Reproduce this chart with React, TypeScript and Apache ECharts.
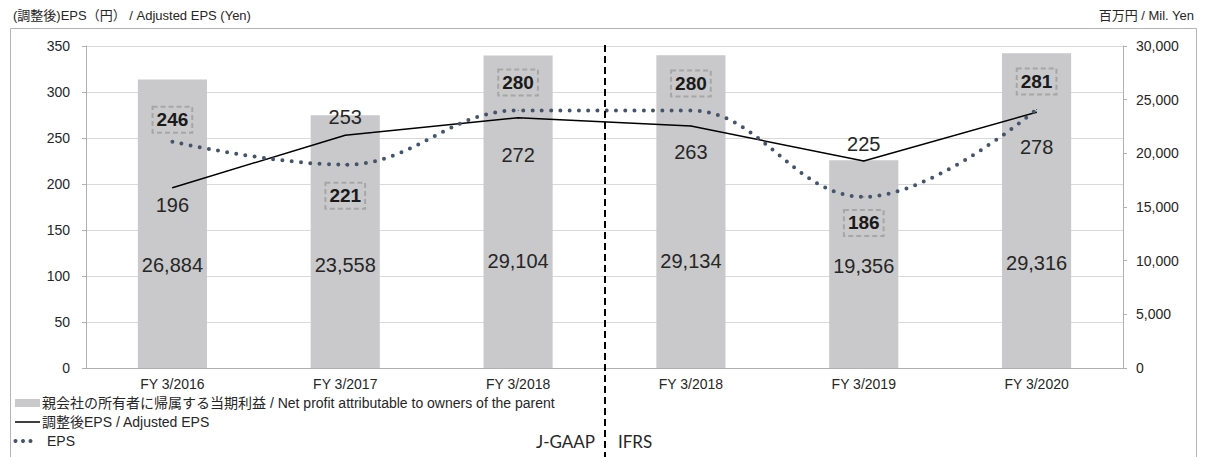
import React, { useEffect, useRef } from "react";
import * as echarts from "echarts";

// ---- data ----
const categories = ["FY 3/2016", "FY 3/2017", "FY 3/2018", "FY 3/2018", "FY 3/2019", "FY 3/2020"];
const netProfit = [26884, 23558, 29104, 29134, 19356, 29316];
const adjustedEps = [196, 253, 272, 263, 225, 278];
const eps = [246, 221, 280, 280, 186, 281];
const leftAxis = { min: 0, max: 350, interval: 50 };
const rightAxis = { min: 0, max: 30000, interval: 5000 };
const legendNames = [
  "親会社の所有者に帰属する当期利益 / Net profit attributable to owners of the parent",
  "調整後EPS / Adjusted EPS",
  "EPS",
];
const leftTitle = "(調整後)EPS（円） / Adjusted EPS (Yen)";
const rightTitle = "百万円 / Mil. Yen";
const gaapLabels = ["J-GAAP", "IFRS"];

// ---- label placement (style, not data) ----
const barLabelDistance = [93, 93, 97, 97, 92.5, 95.5];
const adjLabelDy = [17, -18, 37.5, 26, -17.5, 35];
const epsLabelDy = [-22, 31, -28, -27, 26, -28];

const FONT = "'Liberation Sans', Arial, 'Noto Sans CJK JP', sans-serif";
const BAR_COLOR = "#c9c9cb";
const EPS_COLOR = "#44546a";
const AXIS_COLOR = "#b0b0b0";
const TEXT_COLOR = "#262626";

const fmt = (v: number) => v.toLocaleString("en-US");

export default function App() {
  const ref = useRef<HTMLDivElement>(null);

  useEffect(() => {
    if (!ref.current) return;
    const chart = echarts.init(ref.current, undefined, { renderer: "svg" });

    const option: any = {
      animation: false,
      textStyle: { fontFamily: FONT },
      grid: { left: 86, right: 82, top: 46, bottom: 89, containLabel: false },
      xAxis: {
        type: "category",
        data: categories,
        boundaryGap: true,
        axisLine: { show: true, lineStyle: { color: AXIS_COLOR, width: 1 } },
        axisTick: { show: false },
        axisLabel: { fontSize: 14, color: TEXT_COLOR, margin: 9, fontFamily: FONT },
      },
      yAxis: [
        {
          type: "value",
          position: "left",
          min: leftAxis.min,
          max: leftAxis.max,
          interval: leftAxis.interval,
          axisLine: { show: true, lineStyle: { color: AXIS_COLOR } },
          axisTick: { show: true, length: 4, lineStyle: { color: AXIS_COLOR } },
          axisLabel: { fontSize: 14, color: TEXT_COLOR, margin: 16, fontFamily: FONT },
          splitLine: { show: true, lineStyle: { color: "#d9d9d9", width: 1 } },
        },
        {
          type: "value",
          position: "right",
          min: rightAxis.min,
          max: rightAxis.max,
          interval: rightAxis.interval,
          axisLine: { show: true, lineStyle: { color: AXIS_COLOR } },
          axisTick: { show: true, length: 4, lineStyle: { color: AXIS_COLOR } },
          axisLabel: {
            fontSize: 14,
            color: TEXT_COLOR,
            margin: 13,
            fontFamily: FONT,
            formatter: (v: number) => fmt(v),
          },
          splitLine: { show: false },
        },
      ],
      series: [
        {
          name: legendNames[0],
          type: "bar",
          yAxisIndex: 1,
          barWidth: "40%",
          itemStyle: { color: BAR_COLOR },
          label: {
            show: true,
            position: "insideBottom",
            fontSize: 20,
            color: TEXT_COLOR,
            fontFamily: FONT,
            formatter: (p: any) => fmt(p.value),
          },
          emphasis: { disabled: true },
          data: netProfit.map((v, i) => ({ value: v, label: { distance: barLabelDistance[i] } })),
          z: 1,
        },
        {
          name: legendNames[1],
          type: "line",
          yAxisIndex: 0,
          symbol: "circle",
          symbolSize: 1,
          showAllSymbol: true,
          itemStyle: { color: "#000" },
          lineStyle: { color: "#000", width: 1.5 },
          label: {
            show: true,
            position: "inside",
            fontSize: 20,
            color: TEXT_COLOR,
            fontFamily: FONT,
          },
          emphasis: { disabled: true },
          data: adjustedEps.map((v, i) => ({ value: v, label: { offset: [0, adjLabelDy[i]] } })),
          z: 3,
        },
        {
          name: legendNames[2],
          type: "line",
          yAxisIndex: 0,
          smooth: 0.4,
          smoothMonotone: "x",
          symbol: "circle",
          symbolSize: 1,
          showAllSymbol: true,
          itemStyle: { color: EPS_COLOR },
          lineStyle: { color: EPS_COLOR, width: 4, type: [0, 9.3], cap: "round" },
          label: {
            show: true,
            position: "inside",
            fontSize: 19,
            fontWeight: "bold",
            color: "#1a1a1a",
            fontFamily: FONT,
            lineHeight: 20,
            padding: [3, 4, 3, 4],
            borderColor: "#a6a6a6",
            borderWidth: 2,
            borderType: [5, 3],
          },
          emphasis: { disabled: true },
          data: eps.map((v, i) => ({ value: v, label: { offset: [0, epsLabelDy[i]] } })),
          z: 4,
        },
      ],
    };

    chart.setOption(option);

    // divider between J-GAAP and IFRS, at the category boundary
    const p2 = chart.convertToPixel({ xAxisIndex: 0 }, 2) as number;
    const p3 = chart.convertToPixel({ xAxisIndex: 0 }, 3) as number;
    const divX = Math.round((p2 + p3) / 2);

    const txt = (x: number, y: number, text: string, size: number, align: string, family = FONT, fill = TEXT_COLOR) => ({
      type: "text",
      x,
      y,
      silent: true,
      style: {
        text,
        fontSize: size,
        fontFamily: family,
        fill,
        textAlign: align,
        align,
        textVerticalAlign: "middle",
        verticalAlign: "middle",
      },
    });

    chart.setOption({
      graphic: [
        {
          type: "rect",
          silent: true,
          shape: { x: 10.5, y: 28.5, width: 1186, height: 460 },
          style: { fill: "none", stroke: "#b4b4b4", lineWidth: 1 },
          z: 0,
        },
        {
          type: "line",
          silent: true,
          shape: { x1: divX, y1: 45, x2: divX, y2: 457 },
          style: { stroke: "#000", lineWidth: 2, lineDash: [7, 4] },
          z: 10,
        },
        txt(13, 15, leftTitle, 13, "left"),
        txt(1194, 15, rightTitle, 13, "right"),
        txt(divX - 10, 441, gaapLabels[0], 17, "right", "Lato, 'Open Sans', sans-serif"),
        txt(divX + 13, 441, gaapLabels[1], 17, "left", "Lato, 'Open Sans', sans-serif"),
        // legend
        {
          type: "rect",
          silent: true,
          shape: { x: 15, y: 399, width: 25, height: 8 },
          style: { fill: BAR_COLOR },
        },
        txt(42, 403, legendNames[0], 14, "left"),
        {
          type: "line",
          silent: true,
          shape: { x1: 15, y1: 422, x2: 40, y2: 422 },
          style: { stroke: "#000", lineWidth: 1.5 },
        },
        txt(42, 422, legendNames[1], 14, "left"),
        { type: "circle", silent: true, shape: { cx: 15.5, cy: 441, r: 2 }, style: { fill: EPS_COLOR } },
        { type: "circle", silent: true, shape: { cx: 23, cy: 441, r: 2 }, style: { fill: EPS_COLOR } },
        { type: "circle", silent: true, shape: { cx: 30.5, cy: 441, r: 2 }, style: { fill: EPS_COLOR } },
        txt(47, 441, legendNames[2], 14, "left"),
      ],
    });

    return () => chart.dispose();
  }, []);

  return (
    <div
      ref={ref}
      style={{ position: "fixed", left: 0, top: 0, width: 1205, height: 457, background: "#fff" }}
    />
  );
}
